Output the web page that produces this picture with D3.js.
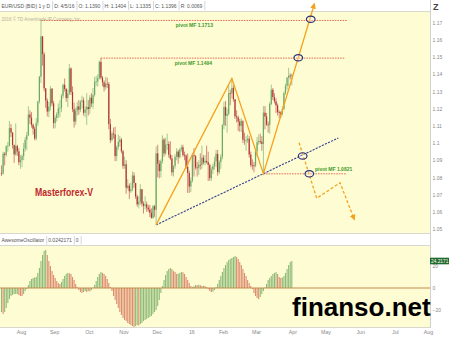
<!DOCTYPE html>
<html>
<head>
<meta charset="utf-8">
<script src="https://cdn.jsdelivr.net/npm/d3@7"></script>
<style>
html, body { margin: 0; padding: 0; background: #fff; }
svg { display: block; font-family: "Liberation Sans", Arial, sans-serif; }
</style>
</head>
<body>
<div class="chart"></div>
<script>
// EUR/USD daily bars, first bar 2015-07-20, last 2016-04-05
const startDate = "2015-07-20";
const endDate = "2016-09-01";
const holidays = ["2015-12-25", "2016-01-01"];
const firstOpen = 1.0826;
const highs = [
    1.0870, 1.0950, 1.0948, 1.0986, 1.1007, 1.1128, 1.1110, 1.1063, 1.0990, 1.1114,
    1.0990, 1.0970, 1.0930, 1.0935, 1.1000, 1.1035, 1.1065, 1.1214, 1.1190, 1.1180,
    1.1114, 1.1096, 1.1145, 1.1245, 1.1390, 1.1714, 1.1620, 1.1530, 1.1320, 1.1260, 1.1240,
    1.1332, 1.1320, 1.1245, 1.1160, 1.1180, 1.1230, 1.1250, 1.1285, 1.1345, 1.1375,
    1.1320, 1.1310, 1.1460, 1.1440, 1.1330, 1.1235, 1.1205, 1.1240, 1.1250, 1.1250, 1.1275, 1.1265,
    1.1215, 1.1290, 1.1250, 1.1280, 1.1290, 1.1320, 1.1385, 1.1390, 1.1400, 1.1480,
    1.1495, 1.1390, 1.1365, 1.1385, 1.1380, 1.1355, 1.1140, 1.1070, 1.1090, 1.1095, 1.0985, 1.1050,
    1.1040, 1.1030, 1.0960, 1.0920, 1.0900, 1.0790, 1.0765, 1.0770, 1.0835, 1.0830,
    1.0760, 1.0700, 1.0690, 1.0760, 1.0730, 1.0660, 1.0690, 1.0660, 1.0640, 1.0640, 1.0620,
    1.0640, 1.0640, 1.0980, 1.0990, 1.0900, 1.0905, 1.1045, 1.1030, 1.1030, 1.1055,
    1.1010, 1.1010, 1.0930, 1.0870, 1.0935, 1.0970, 1.0960, 1.0970, 1.0990, 1.0990, 1.0950, 1.0935,
    1.0940, 1.0840, 1.0800, 1.0940, 1.0970, 1.0930, 1.0890, 1.0900, 1.0940, 1.0985,
    1.0930, 1.0930, 1.0985, 1.0950, 1.0880, 1.0860, 1.0880, 1.0920, 1.0960, 1.0960,
    1.0900, 1.0935, 1.1110, 1.1240, 1.1245, 1.1200, 1.1340, 1.1310, 1.1376, 1.1335,
    1.1255, 1.1190, 1.1160, 1.1140, 1.1145, 1.1075, 1.1060, 1.1040, 1.1050, 1.1040, 1.0950,
    1.0905, 1.0890, 1.0960, 1.1035, 1.1050, 1.1055, 1.1040, 1.1215, 1.1215, 1.1175,
    1.1125, 1.1240, 1.1340, 1.1320, 1.1290, 1.1260, 1.1230, 1.1190, 1.1185, 1.1215,
    1.1300, 1.1345, 1.1385, 1.1438, 1.1405, 1.1404
];
const lows = [
    1.0809, 1.0816, 1.0870, 1.0920, 1.0950, 1.0980, 1.1035, 1.0968, 1.0885, 1.0925,
    1.0925, 1.0870, 1.0850, 1.0860, 1.0900, 1.0950, 1.0960, 1.1040, 1.1110, 1.1090,
    1.1050, 1.1016, 1.1015, 1.1100, 1.1230, 1.1350, 1.1450, 1.1300, 1.1205, 1.1155, 1.1150,
    1.1190, 1.1215, 1.1085, 1.1085, 1.1125, 1.1145, 1.1150, 1.1180, 1.1260, 1.1300,
    1.1240, 1.1210, 1.1280, 1.1280, 1.1180, 1.1090, 1.1105, 1.1160, 1.1165, 1.1180, 1.1200, 1.1160,
    1.1150, 1.1105, 1.1160, 1.1170, 1.1210, 1.1200, 1.1270, 1.1330, 1.1330, 1.1370,
    1.1370, 1.1330, 1.1300, 1.1310, 1.1320, 1.1080, 1.1000, 1.1010, 1.1025, 1.0895, 1.0895, 1.0960,
    1.0980, 1.0940, 1.0850, 1.0850, 1.0705, 1.0730, 1.0675, 1.0710, 1.0720, 1.0740,
    1.0675, 1.0630, 1.0620, 1.0640, 1.0630, 1.0590, 1.0615, 1.0600, 1.0600, 1.0570, 1.0560,
    1.0560, 1.0570, 1.0524, 1.0800, 1.0795, 1.0800, 1.0880, 1.0920, 1.0930, 1.0960,
    1.0915, 1.0900, 1.0810, 1.0805, 1.0850, 1.0900, 1.0880, 1.0910, 1.0950, 1.0920, 1.0900, 1.0850,
    1.0710, 1.0710, 1.0715, 1.0770, 1.0805, 1.0845, 1.0805, 1.0815, 1.0845, 1.0850,
    1.0875, 1.0870, 1.0880, 1.0780, 1.0780, 1.0780, 1.0820, 1.0845, 1.0860, 1.0810,
    1.0820, 1.0850, 1.0905, 1.1080, 1.1100, 1.1060, 1.1160, 1.1220, 1.1260, 1.1240,
    1.1140, 1.1120, 1.1070, 1.1065, 1.1065, 1.1000, 1.0990, 1.0955, 1.1000, 1.0915, 1.0860,
    1.0845, 1.0830, 1.0860, 1.0920, 1.0990, 1.0995, 1.0955, 1.0822, 1.1080, 1.1100,
    1.1060, 1.1055, 1.1220, 1.1250, 1.1230, 1.1175, 1.1160, 1.1145, 1.1145, 1.1160,
    1.1190, 1.1280, 1.1310, 1.1330, 1.1370, 1.1335
];
const closes = [
    1.0823, 1.0938, 1.0931, 1.0981, 1.0985, 1.1087, 1.1061, 1.0989, 1.0934, 1.0983,
    1.0951, 1.0888, 1.0901, 1.0924, 1.0968, 1.1019, 1.1045, 1.1166, 1.1147, 1.1106,
    1.1083, 1.1026, 1.1118, 1.1242, 1.1386, 1.1621, 1.1517, 1.1318, 1.1247, 1.1183, 1.1212,
    1.1316, 1.1231, 1.1116, 1.1146, 1.1168, 1.1201, 1.1205, 1.1276, 1.1339, 1.1315,
    1.1262, 1.1288, 1.1434, 1.1297, 1.1197, 1.1125, 1.1188, 1.1213, 1.1194, 1.1240, 1.1248, 1.1176,
    1.1195, 1.1210, 1.1198, 1.1264, 1.1230, 1.1280, 1.1357, 1.1359, 1.1378, 1.1472,
    1.1380, 1.1353, 1.1325, 1.1345, 1.1343, 1.1110, 1.1017, 1.1056, 1.1050, 1.0924, 1.0977, 1.1006,
    1.1020, 1.0952, 1.0867, 1.0877, 1.0740, 1.0752, 1.0720, 1.0730, 1.0811, 1.0768,
    1.0689, 1.0643, 1.0658, 1.0732, 1.0647, 1.0635, 1.0643, 1.0625, 1.0613, 1.0594, 1.0565,
    1.0632, 1.0612, 1.0940, 1.0880, 1.0837, 1.0895, 1.1020, 1.0940, 1.0990, 1.0994,
    1.0932, 1.0910, 1.0830, 1.0867, 1.0920, 1.0950, 1.0918, 1.0964, 1.0975, 1.0930, 1.0927, 1.0861,
    1.0826, 1.0747, 1.0781, 1.0929, 1.0923, 1.0858, 1.0856, 1.0874, 1.0872, 1.0915,
    1.0887, 1.0896, 1.0889, 1.0873, 1.0796, 1.0845, 1.0867, 1.0894, 1.0937, 1.0831,
    1.0889, 1.0920, 1.1104, 1.1210, 1.1159, 1.1170, 1.1290, 1.1289, 1.1320, 1.1255,
    1.1155, 1.1150, 1.1125, 1.1100, 1.1130, 1.1020, 1.1015, 1.1015, 1.1025, 1.0933, 1.0872,
    1.0870, 1.0867, 1.0952, 1.1005, 1.1012, 1.1008, 1.0995, 1.1177, 1.1154, 1.1108,
    1.1106, 1.1227, 1.1310, 1.1267, 1.1243, 1.1219, 1.1180, 1.1177, 1.1168, 1.1198,
    1.1290, 1.1333, 1.1380, 1.1392, 1.1390, 1.1396
];
// Awesome Oscillator (x 1000)
const aoValues = [
    -21.5, -23.3, -21.5, -17.9, -13.5, -9.9, -7.2, -6.3, -5.4, -5.4,
    -5.4, -6.3, -7.2, -7.2, -5.4, -2.7, -0.9, 2.7, 6.3, 8.1,
    9.0, 9.4, 9.9, 13.5, 17.9, 24.2, 29.6, 33.2, 34.1, 29.6,
    24.2, 19.7, 15.2, 11.7, 9.0, 6.3, 4.5, 3.6, 5.4, 8.1,
    10.8, 12.6, 13.5, 13.2, 12.6, 9.9, 7.2, 3.6, 0.9, -1.8,
    -3.6, -4.5, -3.6, -2.7, -3.6, -2.7, -3.1, -1.8, 0.4, 2.7,
    6.3, 9.9, 12.6, 14.4, 13.5, 12.6, 10.8, 8.1, 4.5, 0.9,
    -2.7, -7.2, -10.8, -14.4, -17.9, -21.5, -24.2, -26.9, -28.7, -29.6,
    -31.4, -32.3, -33.2, -34.1, -35.0, -34.1, -33.2, -33.6, -32.3, -31.4,
    -29.6, -28.7, -27.8, -26.9, -26.0, -25.1, -23.3, -21.5, -19.7, -16.1,
    -10.8, -4.5, 1.8, 7.2, 11.7, 15.2, 17.0, 17.9, 17.0, 15.2,
    14.4, 12.6, 12.9, 13.5, 14.4, 14.1, 12.6, 9.9, 7.2, 4.5,
    1.8, 0.9, 1.8, 2.7, 2.5, 2.9, 2.6, 1.8, 2.0, 1.7,
    0.9, -0.9, -2.7, -3.6, -3.3, -1.8, 0.9, 3.6, 7.2, 10.8,
    14.4, 17.9, 20.6, 23.3, 25.1, 26.0, 26.9, 27.8, 28.7, 27.8,
    26.0, 23.3, 20.6, 17.0, 13.5, 10.8, 7.2, 4.5, 1.8, -0.9,
    -4.5, -7.2, -9.0, -9.9, -8.1, -5.4, -2.7, 0.4, 3.6, 7.2,
    9.0, 10.8, 12.6, 13.5, 14.4, 12.6, 9.9, 9.0, 9.4, 10.8,
    13.5, 17.0, 20.6, 23.3, 24.2171
];
const monthLabels = ["Aug", "Sep", "Oct", "Nov", "Dec", "16", "Feb", "Mar", "Apr", "May", "Jun", "Jul", "Aug"];
const priceTicks = [1.05, 1.06, 1.07, 1.08, 1.09, 1.1, 1.11, 1.12, 1.13, 1.14, 1.15, 1.16, 1.17];
const aoTicks = [-20, 0, 20];
// pivot lines: value, first bar, last bar (bar index from startDate)
const pivotValues = [1.1713, 1.1494, 1.0821];
const pivotFrom = [25, 63, 166];
const pivotTo = [218.8, 217.7, 218.8];
// drawn scenario paths, [bar index, price]
const bullPath = [[98, 1.0524], [146, 1.1376], [166, 1.0822], [198.3, 1.1809]];
const bearPath = [[188.6, 1.1002], [199.8, 1.0679], [214.6, 1.0769], [223.6, 1.0556]];
const trendLine = [[98, 1.0524], [213.5, 1.1030]];
const circlePoints = [[188.1, 1.1496], [196, 1.1720], [190.9, 1.0925], [195.1, 1.0821]];
const headerItems = ["EUR/USD (BID) 1 y D", "D: 4/5/16", "O: 1.1390", "H: 1.1404", "L: 1.1335", "C: 1.1396", "R: 0.0069"];
const oscItems = ["AwesomeOscillator", "0.0242171", "0"];

function run() {
    var w = 450, h = 337, plotW = 430;
    var svg = d3.select(".chart").append("svg")
        .attr("width", w)
        .attr("height", h);

    // trading days (no weekends, no holidays) -> bar index
    var parse = d3.timeParse("%Y-%m-%d"), fmt = d3.timeFormat("%Y-%m-%d");
    var days = d3.timeDay.range(parse(startDate), parse(endDate)).filter(function(d) {
        return d.getDay() != 0 && d.getDay() != 6 && holidays.indexOf(fmt(d)) < 0;
    });
    var monthIdx = [];
    days.forEach(function(d, i) {
        if (i > 0 && d.getMonth() != days[i - 1].getMonth()) monthIdx.push(i);
    });

    var bars = closes.map(function(c, i) {
        return { i: i, open: i ? closes[i - 1] : firstOpen, high: highs[i], low: lows[i], close: c };
    });

    var x = d3.scaleLinear().domain([-0.97, 271.6]).range([0, plotW]);
    var y = d3.scaleLinear().domain([1.05, 1.17]).range([229, 22.7]);
    var yAo = d3.scaleLinear().domain([-20, 20]).range([310.3, 265.7]);

    // panels
    svg.append("rect").attr("x", 0).attr("y", 11).attr("width", plotW).attr("height", 222).attr("fill", "#fefcd2");
    svg.append("rect").attr("x", 0).attr("y", 245).attr("width", plotW).attr("height", 82).attr("fill", "#fefcd2");
    [11, 233, 245, 327].forEach(function(yy) {
        svg.append("line").attr("x1", 0).attr("x2", plotW).attr("y1", yy + 0.5).attr("y2", yy + 0.5)
            .attr("stroke", "#d8d8d0").attr("stroke-width", 1);
    });
    svg.append("line").attr("x1", plotW + 0.5).attr("x2", plotW + 0.5).attr("y1", 0).attr("y2", 328)
        .attr("stroke", "#d0d0d0");

    svg.append("defs").append("clipPath").attr("id", "main-clip")
        .append("rect").attr("x", 0).attr("y", 11).attr("width", plotW).attr("height", 222);
    svg.select("defs").append("marker")
        .attr("id", "arrow").attr("viewBox", "0 0 10 10").attr("refX", 8).attr("refY", 5)
        .attr("markerWidth", 4.5).attr("markerHeight", 4.5).attr("orient", "auto-start-reverse")
        .append("path").attr("d", "M0,0L10,5L0,10z").attr("fill", "#f5a21e");

    // header boxes
    var hx = 1.5;
    var hdr = svg.append("g").attr("font-size", "5px").attr("fill", "#555");
    headerItems.forEach(function(t) {
        var txt = hdr.append("text").attr("x", hx).attr("y", 7.5).text(t);
        hx += txt.node().getComputedTextLength() + 4;
        hdr.append("line").attr("x1", hx - 1.5).attr("x2", hx - 1.5).attr("y1", 1).attr("y2", 10)
            .attr("stroke", "#d6d6d6");
    });
    var ox = 1.5;
    var osc = svg.append("g").attr("font-size", "5px").attr("fill", "#555");
    oscItems.forEach(function(t) {
        var txt = osc.append("text").attr("x", ox).attr("y", 241.5).text(t);
        ox += txt.node().getComputedTextLength() + 4;
        osc.append("line").attr("x1", ox - 1.5).attr("x2", ox - 1.5).attr("y1", 236).attr("y2", 244.5)
            .attr("stroke", "#d6d6d6");
    });
    svg.append("text").attr("x", 1.5).attr("y", 20.5).attr("font-size", "4.5px").attr("fill", "#b4b2a0")
        .text("2016 \u00a9 TD Ameritrade IP Company, Inc.");

    var main = svg.append("g").attr("clip-path", "url(#main-clip)");

    // pivot lines
    pivotValues.forEach(function(v, k) {
        main.append("line")
            .attr("x1", x(pivotFrom[k])).attr("x2", x(pivotTo[k]))
            .attr("y1", y(v)).attr("y2", y(v))
            .attr("stroke", "#e0604c").attr("stroke-width", 0.9).attr("stroke-dasharray", "1.6,1");
    });

    // candles
    var candles = main.selectAll("g.candle").data(bars).enter().append("g").attr("class", "candle");
    candles.append("line")
        .attr("x1", function(d) { return x(d.i); })
        .attr("x2", function(d) { return x(d.i); })
        .attr("y1", function(d) { return y(d.high); })
        .attr("y2", function(d) { return y(d.low); })
        .attr("stroke", function(d) { return d.close >= d.open ? "#8dbd84" : "#c66a62"; })
        .attr("stroke-width", 0.8);
    candles.append("rect")
        .attr("x", function(d) { return x(d.i) - 0.6; })
        .attr("width", 1.2)
        .attr("y", function(d) { return y(Math.max(d.open, d.close)); })
        .attr("height", function(d) { return Math.max(0.8, Math.abs(y(d.open) - y(d.close))); })
        .attr("fill", function(d) { return d.close >= d.open ? "#6aaa62" : "#b03434"; });

    // trend line and scenario paths
    var line = d3.line().x(function(d) { return x(d[0]); }).y(function(d) { return y(d[1]); });
    svg.append("path").attr("d", line(trendLine)).attr("fill", "none")
        .attr("stroke", "#34418f").attr("stroke-width", 1.1).attr("stroke-dasharray", "2.2,1.2");
    svg.append("path").attr("d", line(bullPath)).attr("fill", "none")
        .attr("stroke", "#f5a21e").attr("stroke-width", 1.3).attr("marker-end", "url(#arrow)");
    svg.append("path").attr("d", line(bearPath)).attr("fill", "none")
        .attr("stroke", "#f5a21e").attr("stroke-width", 1.3).attr("stroke-dasharray", "3,2")
        .attr("marker-end", "url(#arrow)");

    svg.selectAll("ellipse.mark").data(circlePoints).enter().append("ellipse")
        .attr("class", "mark")
        .attr("cx", function(d) { return x(d[0]); })
        .attr("cy", function(d) { return y(d[1]); })
        .attr("rx", 4.3).attr("ry", 3.2)
        .attr("fill", "#ffffff").attr("fill-opacity", 0.25)
        .attr("stroke", "#2c2f78").attr("stroke-width", 1.2);

    // pivot labels
    var labelAt = [110.4, 109.8, 198.7], labelDy = [6.6, 6.4, -3];
    pivotValues.forEach(function(v, k) {
        svg.append("text").attr("x", x(labelAt[k])).attr("y", y(v) + labelDy[k])
            .attr("font-size", "5px").attr("font-weight", "bold").attr("fill", "#3f9a2c")
            .text("pivot MF " + d3.format(".4f")(v));
    });

    svg.append("text").attr("x", 35).attr("y", 195.5)
        .attr("font-size", "10.4px").attr("font-weight", "bold").attr("fill", "#c0262c")
        .attr("textLength", 58).attr("lengthAdjust", "spacingAndGlyphs")
        .text("Masterforex-V");

    // price axis
    var yAxis = svg.append("g").attr("transform", "translate(" + (plotW + 1) + ",0)")
        .call(d3.axisRight(y).tickValues(priceTicks).tickSize(0).tickPadding(1.5)
            .tickFormat(function(d) { return d3.format(".2f")(d).replace(/0$/, "").replace(/\.$/, ""); }));
    yAxis.select(".domain").remove();
    yAxis.selectAll("text").attr("font-size", "5px").attr("fill", "#888").attr("font-family", "Liberation Sans, Arial, sans-serif");

    svg.append("text").attr("x", 433).attr("y", 9.5).attr("font-size", "9px").attr("font-weight", "bold")
        .attr("fill", "#444").text("Z");

    // awesome oscillator
    var ao = svg.append("g");
    ao.selectAll("rect").data(aoValues).enter().append("rect")
        .attr("x", function(d, i) { return x(i) - 0.55; })
        .attr("width", 1.1)
        .attr("y", function(d) { return Math.min(yAo(d), yAo(0)); })
        .attr("height", function(d) { return Math.abs(yAo(d) - yAo(0)); })
        .attr("fill", function(d, i) {
            var k = i;
            while (k > 0 && aoValues[k] == aoValues[k - 1]) k--;
            return k == 0 || aoValues[k] > aoValues[k - 1] ? "#8cba78" : "#dc8c70";
        });
    ao.append("line").attr("x1", 0).attr("x2", plotW).attr("y1", yAo(0)).attr("y2", yAo(0))
        .attr("stroke", "#c58a4e").attr("stroke-width", 1);

    var aoAxis = svg.append("g").attr("transform", "translate(" + (plotW + 1) + ",0)")
        .call(d3.axisRight(yAo).tickValues(aoTicks).tickSize(0).tickPadding(1.5));
    aoAxis.select(".domain").remove();
    aoAxis.selectAll("text").attr("font-size", "5px").attr("fill", "#888").attr("font-family", "Liberation Sans, Arial, sans-serif");

    var last = aoValues[aoValues.length - 1];
    svg.append("rect").attr("x", plotW).attr("y", yAo(last) - 3.3).attr("width", 19).attr("height", 6.6)
        .attr("fill", "#1f6a2c");
    svg.append("text").attr("x", plotW + 1).attr("y", yAo(last) + 1.8)
        .attr("font-size", "4.8px").attr("fill", "#fff").text(d3.format(".4f")(last));

    // time axis
    var xAxis = svg.append("g").attr("transform", "translate(0,327)")
        .call(d3.axisBottom(x).tickValues(monthIdx).tickSize(0).tickPadding(3)
            .tickFormat(function(d, k) { return monthLabels[k]; }));
    xAxis.select(".domain").remove();
    xAxis.selectAll("text").attr("dx", 3.7).attr("font-size", "5.3px").attr("fill", "#888")
        .attr("font-family", "Liberation Sans, Arial, sans-serif");

    // watermark
    svg.append("text").attr("x", 292).attr("y", 316)
        .attr("font-size", "26px").attr("font-weight", "bold").attr("fill", "#000")
        .text("finanso.net");
}
window.addEventListener('load', run)
</script>
</body>
</html>
